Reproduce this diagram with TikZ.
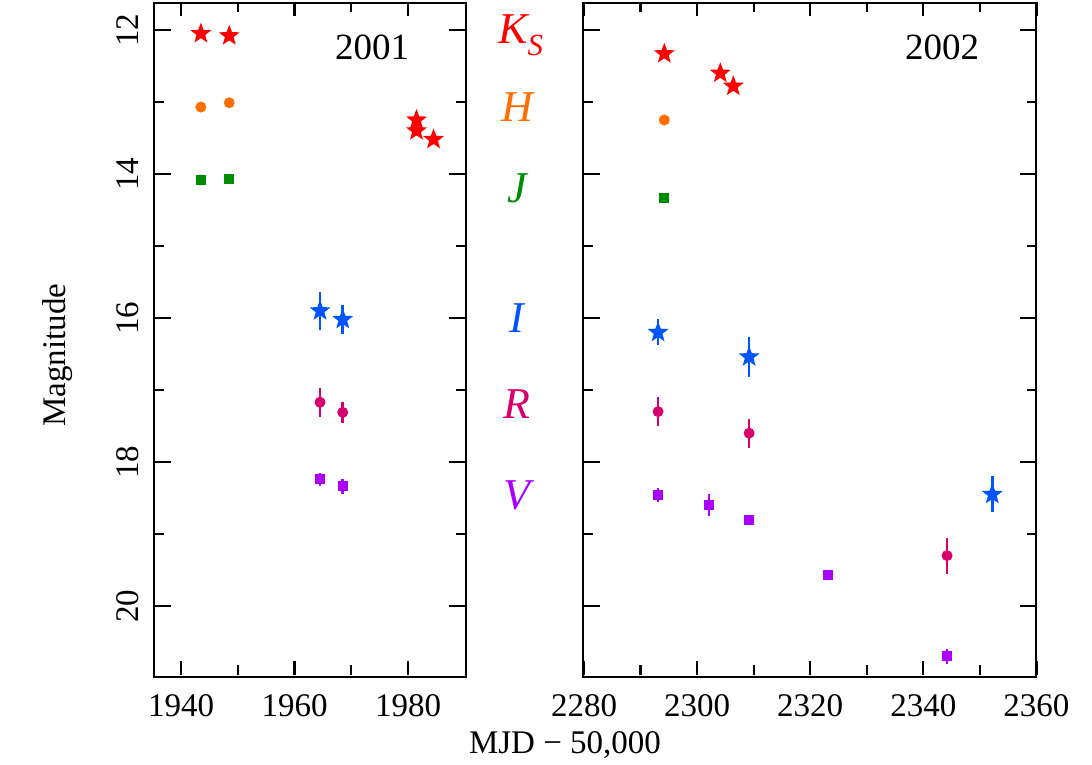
\documentclass[tikz,border=0pt]{standalone}
\usepackage{fontspec}
\setmainfont{Liberation Serif}
\usetikzlibrary{shapes.geometric}
\definecolor{cK}{RGB}{255,0,0}
\definecolor{cH}{RGB}{255,110,0}
\definecolor{cJ}{RGB}{0,140,0}
\definecolor{cI}{RGB}{0,85,255}
\definecolor{cR}{RGB}{215,0,110}
\definecolor{cV}{RGB}{170,0,255}
\tikzset{
  starm/.style={star,star points=5,star point ratio=2.4,fill=#1,draw=none,inner sep=0pt,minimum size=22pt},
  circm/.style={circle,fill=#1,draw=none,inner sep=0pt,minimum size=11pt},
  sqm/.style={rectangle,fill=#1,draw=none,inner sep=0pt,minimum size=10pt},
  ebar/.style={draw=#1,line width=2.6pt},
  frame/.style={line width=2.2pt},
  tk/.style={line width=2.2pt},
  lab/.style={font=\fontsize{33}{36}\selectfont},
  blab/.style={font=\fontsize{44}{48}\selectfont\itshape},
}
\newcommand{\pt}[5]{% style, color, x, y, err
  \ifdim #5pt>0pt \draw[ebar=#2] (#3,#4-#5) -- (#3,#4+#5);\fi
  \node[#1=#2] at (#3,#4) {};}
\begin{document}
\begin{tikzpicture}[x=1pt,y=1pt]
\useasboundingbox (0,0) rectangle (1092,-764);
% frames
\draw[frame] (154,-3) rectangle (466,-677);
\draw[frame] (583,-3) rectangle (1036,-677);
% left panel
\begin{scope}[x=5.675pt,y=-72pt,shift={(-10828.5pt,834pt)}]
  \foreach \m in {12,14,16,18,20}{
    \draw[tk] (1935.4,\m) -- ++(16pt,0); \draw[tk] (1990.1,\m) -- ++(-16pt,0);
    \node[lab,rotate=90] at (1930.6,\m) {\m};}
  \foreach \m in {13,15,17,19}{
    \draw[tk] (1935.4,\m) -- ++(9pt,0); \draw[tk] (1990.1,\m) -- ++(-9pt,0);}
  \foreach \d in {1940,1960,1980}{
    \draw[tk] (\d,20.96) -- ++(0,14pt); \draw[tk] (\d,11.61) -- ++(0,-14pt);
    \node[lab] at (\d,21.38) {\d};}
  \foreach \d in {1950,1970}{
    \draw[tk] (\d,20.96) -- ++(0,10pt); \draw[tk] (\d,11.61) -- ++(0,-10pt);}
  \pt{starm}{cK}{1943.5}{12.05}{0}
  \pt{starm}{cK}{1948.5}{12.08}{0}
  \pt{starm}{cK}{1981.5}{13.25}{0}
  \pt{starm}{cK}{1981.5}{13.4}{0}
  \pt{starm}{cK}{1984.5}{13.52}{0}
  \pt{circm}{cH}{1943.5}{13.07}{0}
  \pt{circm}{cH}{1948.5}{13.01}{0}
  \pt{sqm}{cJ}{1943.5}{14.08}{0}
  \pt{sqm}{cJ}{1948.5}{14.07}{0}
  \pt{starm}{cI}{1964.5}{15.9}{0.26}
  \pt{starm}{cI}{1968.5}{16.02}{0.2}
  \pt{circm}{cR}{1964.5}{17.17}{0.2}
  \pt{circm}{cR}{1968.5}{17.31}{0.15}
  \pt{sqm}{cV}{1964.5}{18.24}{0.09}
  \pt{sqm}{cV}{1968.5}{18.34}{0.11}
\end{scope}
% right panel
\begin{scope}[x=5.655pt,y=-72pt,shift={(-12309.4pt,834pt)}]
  \foreach \m in {12,14,16,18,20}{
    \draw[tk] (2280,\m) -- ++(16pt,0); \draw[tk] (2360,\m) -- ++(-16pt,0);}
  \foreach \m in {13,15,17,19}{
    \draw[tk] (2280,\m) -- ++(9pt,0); \draw[tk] (2360,\m) -- ++(-9pt,0);}
  \foreach \d in {2280,2300,2320,2340,2360}{
    \draw[tk] (\d,20.96) -- ++(0,14pt); \draw[tk] (\d,11.61) -- ++(0,-14pt);
    \node[lab] at (\d,21.38) {\d};}
  \foreach \d in {2290,2310,2330,2350}{
    \draw[tk] (\d,20.96) -- ++(0,10pt); \draw[tk] (\d,11.61) -- ++(0,-10pt);}
  \pt{starm}{cK}{2294.2}{12.33}{0}
  \pt{starm}{cK}{2304.1}{12.6}{0}
  \pt{starm}{cK}{2306.4}{12.78}{0}
  \pt{circm}{cH}{2294.2}{13.25}{0}
  \pt{sqm}{cJ}{2294.2}{14.33}{0}
  \pt{starm}{cI}{2293.1}{16.2}{0.18}
  \pt{starm}{cI}{2309.2}{16.54}{0.28}
  \pt{starm}{cI}{2352.2}{18.45}{0.25}
  \pt{circm}{cR}{2293.1}{17.3}{0.2}
  \pt{circm}{cR}{2309.2}{17.6}{0.2}
  \pt{circm}{cR}{2344.2}{19.3}{0.25}
  \pt{sqm}{cV}{2293.1}{18.46}{0.1}
  \pt{sqm}{cV}{2302.1}{18.6}{0.15}
  \pt{sqm}{cV}{2309.2}{18.8}{0.07}
  \pt{sqm}{cV}{2323.2}{19.57}{0}
  \pt{sqm}{cV}{2344.2}{20.7}{0.1}
\end{scope}
% year labels
\node[font=\fontsize{37}{40}\selectfont] (y1) at (372,-47) {2001};
\node[font=\fontsize{37}{40}\selectfont] (y2) at (942,-47) {2002};
% band labels
\node[blab,text=cK] (bK) at (521,-35) {K\textsubscript{\itshape S}};
\node[blab,text=cH] (bH) at (517,-107) {H};
\node[blab,text=cJ] (bJ) at (517,-188) {J};
\node[blab,text=cI] (bI) at (517,-318) {I};
\node[blab,text=cR] (bR) at (517,-404) {R};
\node[blab,text=cV] (bV) at (517,-495) {V};
% axis titles
\node[lab,rotate=90] (ylab) at (58,-355) {Magnitude};
\node[lab] (xlab) at (565,-745) {MJD − 50,000};
\end{tikzpicture}
\end{document}
